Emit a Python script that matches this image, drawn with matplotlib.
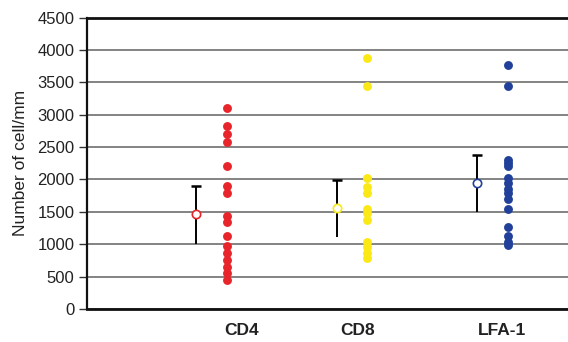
import matplotlib
matplotlib.use("Agg")
import matplotlib.pyplot as plt
import numpy as np

plt.rcParams['font.family'] = ['Liberation Sans', 'DejaVu Sans']

categories = ["CD4", "CD8", "LFA-1"]

cd4_values = [3100, 2830, 2700, 2580, 2200, 1900, 1790, 1430, 1350, 1120,
              970, 860, 760, 650, 550, 450]
cd8_values = [3870, 3450, 2030, 1890, 1790, 1550, 1480, 1370, 1040, 960, 860, 780]
lfa1_values = [3770, 3450, 2300, 2250, 2200, 2020, 1940, 1860, 1790, 1700,
               1540, 1270, 1120, 1040, 990]

means = [1460, 1555, 1940]
err_up = [445, 435, 430]
err_down = [460, 440, 445]

colors = ["#e8252a", "#fbe917", "#21409a"]
yticks = [0, 500, 1000, 1500, 2000, 2500, 3000, 3500, 4000, 4500]

fig = plt.figure(figsize=(5.68, 3.42), dpi=100)
ax = fig.add_axes([87/568, 33/342, 1 - 87/568, 291.5/342])

series = [cd4_values, cd8_values, lfa1_values]
xs = np.arange(1, len(categories) + 1)
for x, vals, c in zip(xs, series, colors):
    ax.plot([x] * len(vals), vals, 'o', color=c, ms=6.4, mec='none', zorder=3)

mean_x = xs - 0.22
for mx, m, up, dn, c in zip(mean_x, means, err_up, err_down, colors):
    ax.vlines(mx, m - dn, m + up, color='black', lw=1.4, zorder=2)
    ax.plot([mx], [m + up], marker='_', color='black', ms=7.5, mew=1.8, zorder=2)
    ax.plot([mx], [m], 'o', mfc='white', mec=c, mew=1.2, ms=6, zorder=4)

ax.set_ylim(0, 4500)
ax.set_xlim(0, 3.43)
ax.set_yticks(yticks)
ax.set_yticklabels([str(t) for t in yticks], fontsize=12, color='#222222')
ax.tick_params(axis='y', length=6, width=1, pad=3, color='#333333')

label_shift = [0.10, -0.07, -0.04]
ax.set_xticks(xs + np.array(label_shift))
ax.set_xticklabels(categories, fontsize=12.5, fontweight='bold', color='#222222')
ax.tick_params(axis='x', length=0, pad=10)

ax.yaxis.grid(True, color='#6e6e6e', lw=1.2)
ax.set_axisbelow(True)

ax.spines['right'].set_visible(False)
ax.spines['top'].set_linewidth(2)
ax.spines['top'].set_color('#111111')
ax.spines['bottom'].set_linewidth(2)
ax.spines['bottom'].set_color('#111111')
ax.spines['left'].set_linewidth(1.6)
ax.spines['left'].set_color('#111111')

ax.set_ylabel("Number of cell/mm", fontsize=12.5, color='#222222', labelpad=7)

fig.savefig("out.png", dpi=100)
